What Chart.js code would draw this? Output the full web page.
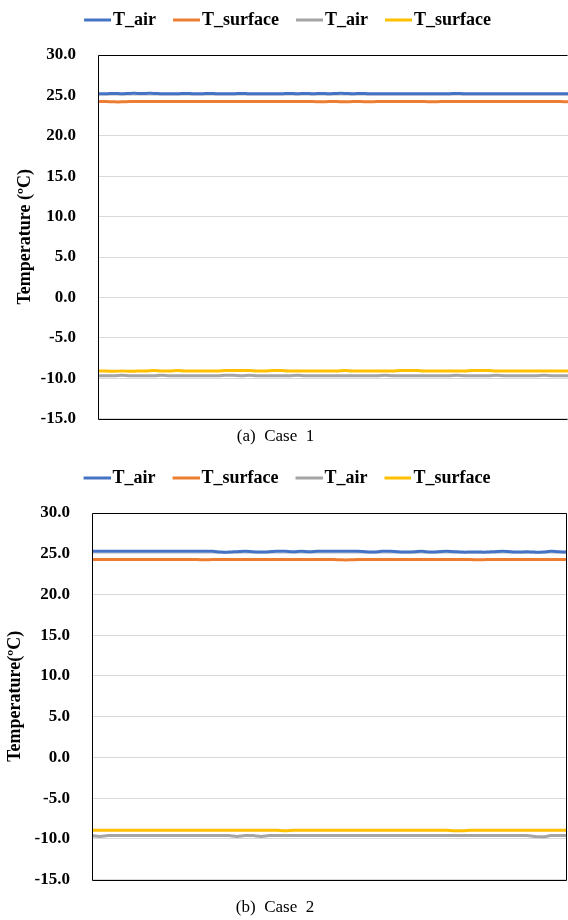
<!DOCTYPE html>
<html>
<head>
<meta charset="utf-8">
<script src="https://cdn.jsdelivr.net/npm/chart.js@4.4.1/dist/chart.umd.min.js"></script>
<style>
  html, body { margin: 0; padding: 0; background: #fff; }
  body { width: 568px; height: 920px; position: relative; overflow: hidden; }
  canvas { position: absolute; left: 0; }
  #case1 { top: 0; }
  #case2 { top: 458px; }
</style>
</head>
<body>
<canvas id="case1" width="568" height="455"></canvas>
<canvas id="case2" width="568" height="462"></canvas>
<script>
// time steps along the x axis (no tick labels shown in the figure)
const timeSteps = [
  1, 2, 3, 4, 5, 6, 7, 8, 9, 10, 11, 12, 13, 14, 15, 16, 17, 18, 19, 20,
  21, 22, 23, 24, 25, 26, 27, 28, 29, 30, 31, 32, 33, 34, 35, 36, 37, 38, 39, 40,
  41, 42, 43, 44, 45, 46, 47, 48, 49, 50, 51, 52, 53, 54, 55, 56, 57, 58, 59, 60
];

const seriesNames = ['T_air', 'T_surface', 'T_air', 'T_surface'];
const seriesColors = ['#4472C4', '#ED7D31', '#A5A5A5', '#FFC000'];
const yTicks = [-15, -10, -5, 0, 5, 10, 15, 20, 25, 30];

// Case 1
const case1AirWarm = [
  25.2, 25.2, 25.25, 25.2, 25.25, 25.25, 25.25, 25.25, 25.2, 25.2,
  25.2, 25.25, 25.2, 25.2, 25.25, 25.2, 25.2, 25.2, 25.25, 25.2,
  25.2, 25.2, 25.2, 25.2, 25.25, 25.2, 25.25, 25.2, 25.25, 25.2,
  25.25, 25.25, 25.2, 25.25, 25.2, 25.2, 25.2, 25.2, 25.2, 25.2,
  25.2, 25.2, 25.2, 25.2, 25.2, 25.25, 25.2, 25.2, 25.2, 25.2,
  25.2, 25.2, 25.2, 25.2, 25.2, 25.2, 25.2, 25.2, 25.2, 25.2
];
const case1SurfWarm = [
  24.25, 24.25, 24.2, 24.2, 24.25, 24.25, 24.25, 24.25, 24.25, 24.25,
  24.25, 24.25, 24.25, 24.25, 24.25, 24.25, 24.25, 24.25, 24.25, 24.25,
  24.25, 24.25, 24.25, 24.25, 24.25, 24.25, 24.25, 24.25, 24.2, 24.25,
  24.25, 24.2, 24.25, 24.25, 24.2, 24.25, 24.25, 24.25, 24.25, 24.25,
  24.25, 24.25, 24.2, 24.25, 24.25, 24.25, 24.25, 24.25, 24.25, 24.25,
  24.25, 24.25, 24.25, 24.25, 24.25, 24.25, 24.25, 24.25, 24.25, 24.2
];
const case1AirCold = [
  -9.7, -9.7, -9.7, -9.65, -9.7, -9.7, -9.7, -9.7, -9.65, -9.7,
  -9.7, -9.7, -9.7, -9.7, -9.7, -9.7, -9.65, -9.65, -9.7, -9.65,
  -9.7, -9.7, -9.7, -9.7, -9.7, -9.65, -9.7, -9.7, -9.7, -9.7,
  -9.7, -9.7, -9.7, -9.7, -9.7, -9.7, -9.65, -9.7, -9.7, -9.7,
  -9.7, -9.7, -9.7, -9.7, -9.7, -9.65, -9.7, -9.7, -9.7, -9.7,
  -9.65, -9.7, -9.7, -9.7, -9.7, -9.7, -9.65, -9.7, -9.7, -9.7
];
const case1SurfCold = [
  -9.1, -9.1, -9.15, -9.1, -9.15, -9.1, -9.1, -9.05, -9.1, -9.1,
  -9.05, -9.1, -9.1, -9.1, -9.1, -9.1, -9.05, -9.05, -9.05, -9.05,
  -9.1, -9.1, -9.05, -9.05, -9.1, -9.1, -9.1, -9.1, -9.1, -9.1,
  -9.1, -9.05, -9.1, -9.1, -9.1, -9.1, -9.1, -9.1, -9.05, -9.05,
  -9.05, -9.1, -9.1, -9.1, -9.1, -9.1, -9.1, -9.05, -9.05, -9.05,
  -9.1, -9.1, -9.1, -9.1, -9.1, -9.1, -9.1, -9.1, -9.1, -9.1
];

// Case 2
const case2AirWarm = [
  25.3, 25.3, 25.3, 25.3, 25.3, 25.3, 25.3, 25.3, 25.3, 25.3,
  25.3, 25.3, 25.3, 25.3, 25.3, 25.3, 25.2, 25.2, 25.25, 25.3,
  25.25, 25.2, 25.25, 25.3, 25.3, 25.25, 25.3, 25.25, 25.3, 25.3,
  25.3, 25.3, 25.3, 25.3, 25.25, 25.2, 25.3, 25.3, 25.25, 25.2,
  25.25, 25.3, 25.2, 25.25, 25.3, 25.25, 25.2, 25.2, 25.2, 25.2,
  25.25, 25.3, 25.25, 25.2, 25.25, 25.2, 25.2, 25.3, 25.25, 25.2
];
const case2SurfWarm = [
  24.3, 24.3, 24.3, 24.3, 24.3, 24.3, 24.3, 24.3, 24.3, 24.3,
  24.3, 24.3, 24.3, 24.3, 24.25, 24.3, 24.3, 24.3, 24.3, 24.3,
  24.3, 24.3, 24.3, 24.3, 24.3, 24.3, 24.3, 24.3, 24.3, 24.3,
  24.3, 24.25, 24.25, 24.3, 24.3, 24.3, 24.3, 24.3, 24.3, 24.3,
  24.3, 24.3, 24.3, 24.3, 24.3, 24.3, 24.3, 24.3, 24.25, 24.3,
  24.3, 24.3, 24.3, 24.3, 24.3, 24.3, 24.3, 24.3, 24.3, 24.3
];
const case2AirCold = [
  -9.6, -9.7, -9.6, -9.6, -9.6, -9.6, -9.6, -9.6, -9.6, -9.6,
  -9.6, -9.6, -9.6, -9.6, -9.6, -9.6, -9.6, -9.6, -9.7, -9.6,
  -9.6, -9.7, -9.6, -9.6, -9.6, -9.6, -9.6, -9.6, -9.6, -9.6,
  -9.6, -9.6, -9.6, -9.6, -9.6, -9.6, -9.6, -9.6, -9.6, -9.6,
  -9.6, -9.6, -9.6, -9.6, -9.6, -9.6, -9.6, -9.6, -9.6, -9.6,
  -9.6, -9.6, -9.6, -9.6, -9.6, -9.7, -9.75, -9.6, -9.6, -9.6
];
const case2SurfCold = [
  -8.95, -8.95, -8.95, -8.95, -8.95, -8.95, -8.95, -8.95, -8.95, -8.95,
  -8.95, -8.95, -8.95, -8.95, -8.95, -8.95, -8.95, -8.95, -8.95, -8.95,
  -8.95, -8.95, -8.95, -8.95, -9.0, -8.95, -8.95, -8.95, -8.95, -8.95,
  -8.95, -8.95, -8.95, -8.95, -8.95, -8.95, -8.95, -8.95, -8.95, -8.95,
  -8.95, -8.95, -8.95, -8.95, -8.95, -9.0, -9.0, -8.95, -8.95, -8.95,
  -8.95, -8.95, -8.95, -8.95, -8.95, -8.95, -8.95, -8.95, -8.95, -8.95
];

const serif = '"Liberation Serif", "DejaVu Serif", serif';
const LEGEND_LINE = 27;

// legend marker: a short line that sits close to its label
function legendLine(color) {
  const c = document.createElement('canvas');
  c.width = LEGEND_LINE + 14;
  c.height = 4;
  const g = c.getContext('2d');
  g.strokeStyle = color;
  g.lineWidth = 3;
  g.beginPath();
  g.moveTo(14, 2);
  g.lineTo(c.width, 2);
  g.stroke();
  return c;
}

// black box round the plot area
const frame = {
  id: 'frame',
  afterDraw(chart, args, opts) {
    const { ctx, chartArea: a } = chart;
    const l = Math.round(a.left) + 0.5, t = Math.round(a.top) + 0.5;
    const r = Math.round(a.right) - 0.5, b = Math.round(a.bottom) + 0.5;
    ctx.save();
    ctx.strokeStyle = '#000';
    ctx.lineWidth = 1;
    ctx.beginPath();
    ctx.moveTo(r, t);
    ctx.lineTo(l, t);
    ctx.lineTo(l, b);
    ctx.lineTo(r, b);
    if (opts.right) ctx.lineTo(r, t);
    ctx.stroke();
    ctx.restore();
  }
};

// extra room under the legend
const legendGap = {
  id: 'legendGap',
  beforeInit(chart, args, opts) {
    const fit = chart.legend.fit;
    chart.legend.fit = function () {
      fit.call(this);
      this.height += opts.extra;
    };
  }
};

function makeChart(id, values, opts) {
  const datasets = values.map((data, i) => ({
    label: seriesNames[i],
    data,
    borderColor: seriesColors[i],
    backgroundColor: seriesColors[i],
    borderWidth: 3,
    pointRadius: 0,
    pointStyle: legendLine(seriesColors[i]),
    tension: 0.4,
    fill: false
  }));

  return new Chart(document.getElementById(id), {
    type: 'line',
    data: { labels: timeSteps, datasets },
    plugins: [frame, legendGap],
    options: {
      responsive: false,
      animation: false,
      layout: { padding: { left: 0, right: opts.padRight, top: opts.padTop, bottom: opts.padBottom } },
      plugins: {
        frame: { right: opts.rightEdge },
        legendGap: { extra: opts.legendExtra },
        legend: {
          position: 'top',
          labels: {
            usePointStyle: true,
            pointStyleWidth: LEGEND_LINE,
            boxHeight: 18,
            padding: 10,
            color: '#000',
            font: { family: serif, size: 18, weight: 'bold' }
          }
        },
        title: {
          display: true,
          position: 'bottom',
          text: opts.caption,
          color: '#000',
          padding: { top: opts.captionGap, bottom: 0 },
          font: { family: serif, size: 17, weight: 'normal' }
        },
        tooltip: { enabled: false }
      },
      scales: {
        x: {
          ticks: { display: false },
          grid: { display: false, drawTicks: false },
          border: { display: false }
        },
        y: {
          min: -15,
          max: 30,
          afterBuildTicks(scale) {
            scale.ticks = yTicks.map(v => ({ value: v }));
          },
          afterFit(scale) {
            scale.width = opts.axisWidth;
          },
          ticks: {
            padding: 22,
            color: '#000',
            font: { family: serif, size: 17, weight: 'bold' },
            callback: v => v.toFixed(1)
          },
          grid: { color: '#d9d9d9', lineWidth: 1, drawTicks: false },
          border: { display: false },
          title: {
            display: true,
            text: opts.yTitle,
            color: '#000',
            padding: { top: opts.yTitlePad, bottom: 0 },
            font: { family: serif, size: 18, weight: 'bold' }
          }
        }
      }
    }
  });
}

makeChart('case1', [case1AirWarm, case1SurfWarm, case1AirCold, case1SurfCold], {
  caption: '(a)  Case  1\u00a0\u00a0\u00a0\u00a0',
  yTitle: 'Temperature (ºC)',
  axisWidth: 98,
  yTitlePad: 15,
  padTop: 1,
  padRight: 0,
  rightEdge: false,
  padBottom: 8,
  legendExtra: 16,
  captionGap: 8
});

makeChart('case2', [case2AirWarm, case2SurfWarm, case2AirCold, case2SurfCold], {
  caption: '(b)  Case  2\u00a0\u00a0\u00a0\u00a0',
  yTitle: 'Temperature(ºC)',
  axisWidth: 92,
  yTitlePad: 5,
  padTop: 1,
  padRight: 1,
  rightEdge: true,
  padBottom: 2,
  legendExtra: 16,
  captionGap: 18
});
</script>
</body>
</html>
